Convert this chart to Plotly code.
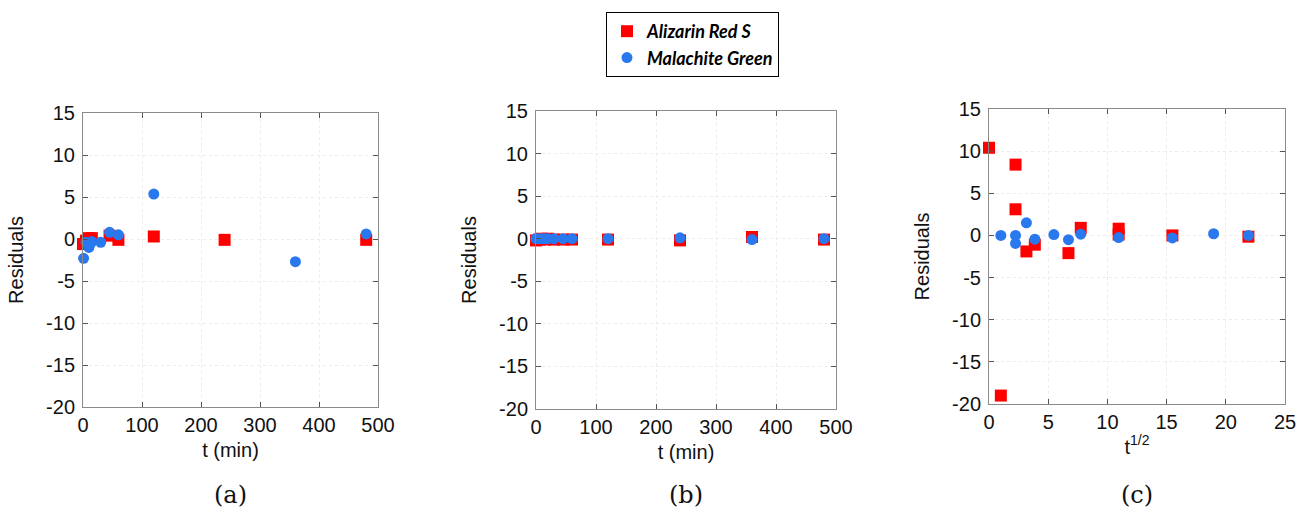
import plotly.graph_objects as go

# Panel (a): residuals vs t (min)
a_red_t = [0, 5, 10, 15, 45, 60, 120, 240, 480]
a_red_r = [-0.6, -0.2, 0.1, 0.1, 0.4, -0.1, 0.3, -0.1, -0.1]
a_blue_t = [1, 5, 10, 12, 15, 30, 45, 60, 120, 360, 480]
a_blue_r = [-2.3, -0.4, -1.0, -0.6, -0.3, -0.4, 0.8, 0.5, 5.35, -2.7, 0.6]

# Panel (b): residuals vs t (min)
b_red_t = [0, 5, 10, 15, 20, 30, 45, 60, 120, 240, 360, 480]
b_red_r = [-0.2, -0.1, 0.0, -0.1, 0.0, -0.1, -0.1, -0.1, -0.1, -0.2, 0.2, -0.1]
b_blue_t = [0, 5, 10, 15, 20, 30, 45, 60, 120, 240, 360, 480]
b_blue_r = [0.0, 0.0, 0.0, 0.0, 0.0, 0.0, 0.0, 0.0, 0.0, 0.1, -0.1, 0.0]

# Panel (c): residuals vs t^1/2
c_red_x = [0, 1.0, 2.24, 2.24, 3.16, 3.87, 6.71, 7.75, 10.95, 10.95, 15.49, 21.91]
c_red_r = [10.4, -19.0, 8.4, 3.1, -1.9, -1.1, -2.1, 0.9, 0.8, 0.1, 0.0, -0.15]
c_blue_x = [1.0, 2.24, 2.24, 3.16, 3.87, 5.48, 6.71, 7.75, 10.95, 15.49, 18.97, 21.91]
c_blue_r = [0.0, 0.0, -0.95, 1.5, -0.45, 0.1, -0.5, 0.15, -0.25, -0.3, 0.2, 0.0]

series_names = ["Alizarin Red S", "Malachite Green"]
panel_labels = ["(a)", "(b)", "(c)"]
x_titles = ["t (min)", "t (min)", "t<sup>1/2</sup>"]
y_tick_vals = [-20, -15, -10, -5, 0, 5, 10, 15]
y_tick_text = ["-20", "-15", "-10", "-5", "0", "5", "10", "15"]
t_tick_vals = [0, 100, 200, 300, 400, 500]
t_tick_text = ["0", "100", "200", "300", "400", "500"]
s_tick_vals = [0, 5, 10, 15, 20, 25]
s_tick_text = ["0", "5", "10", "15", "20", "25"]

RED = "#ff0000"
BLUE = "#2a78ee"
W, H = 1309, 518

fig = go.Figure()
panels = [
    (a_red_t, a_red_r, a_blue_t, a_blue_r),
    (b_red_t, b_red_r, b_blue_t, b_blue_r),
    (c_red_x, c_red_r, c_blue_x, c_blue_r),
]
for i, (rx, ry, bx, by) in enumerate(panels):
    xa = "x" if i == 0 else f"x{i+1}"
    ya = "y" if i == 0 else f"y{i+1}"
    fig.add_trace(go.Scatter(x=rx, y=ry, mode="markers", name=series_names[0],
                             marker=dict(symbol="square", size=12, color=RED),
                             cliponaxis=False,
                             showlegend=(i == 0), xaxis=xa, yaxis=ya, legendrank=1))
    fig.add_trace(go.Scatter(x=bx, y=by, mode="markers", name=series_names[1],
                             marker=dict(symbol="circle", size=11, color=BLUE),
                             cliponaxis=False,
                             showlegend=(i == 0), xaxis=xa, yaxis=ya, legendrank=2))

xdoms = [[83 / W, 378 / W], [536 / W, 836 / W], [989 / W, 1285 / W]]
ydoms = [[1 - 407 / H, 1 - 113 / H], [1 - 409 / H, 1 - 111 / H], [1 - 404 / H, 1 - 109 / H]]
xranges = [[0, 500], [0, 500], [0, 25]]
xticks = [(t_tick_vals, t_tick_text), (t_tick_vals, t_tick_text), (s_tick_vals, s_tick_text)]

tickfont = dict(family="Liberation Sans", size=20, color="#111")
titlefont = dict(family="Liberation Sans", size=20, color="#111")
axis_common = dict(
    showline=True, linecolor="#8a8a8a", linewidth=1, mirror="ticks",
    ticks="inside", ticklen=5, tickcolor="#555", tickwidth=1,
    showgrid=True, gridcolor="#ececec", griddash="dot", gridwidth=1,
    zeroline=False, tickfont=tickfont, automargin=False,
)

layout = {}
for i in range(3):
    xk = "xaxis" if i == 0 else f"xaxis{i+1}"
    yk = "yaxis" if i == 0 else f"yaxis{i+1}"
    ya = "y" if i == 0 else f"y{i+1}"
    xa = "x" if i == 0 else f"x{i+1}"
    layout[xk] = dict(axis_common, domain=xdoms[i], range=xranges[i],
                      tickmode="array", tickvals=xticks[i][0], ticktext=xticks[i][1],
                      anchor=ya,
                      title=dict(text=x_titles[i], font=titlefont, standoff=7))
    layout[yk] = dict(axis_common, domain=ydoms[i], range=[-20, 15],
                      tickmode="array", tickvals=y_tick_vals, ticktext=y_tick_text,
                      anchor=xa, ticklabelstandoff=3,
                      title=dict(text="Residuals", font=titlefont, standoff=17))

fig.update_layout(**layout)

annotations = []
centers = [(d[0] + d[1]) / 2 for d in xdoms]
for i, lab in enumerate(panel_labels):
    annotations.append(dict(text=lab, x=centers[i], y=1 - 495 / H, xref="paper", yref="paper",
                            showarrow=False, xanchor="center", yanchor="middle",
                            font=dict(family="DejaVu Serif", size=24, color="#111")))

fig.update_layout(
    width=W, height=H,
    margin=dict(l=0, r=0, t=0, b=0),
    paper_bgcolor="white", plot_bgcolor="white",
    annotations=annotations,
    legend=dict(x=606 / W, y=1 - 12 / H, xanchor="left", yanchor="top",
                bordercolor="#000", borderwidth=1, bgcolor="white",
                font=dict(family="Lato", size=18, color="#000",
                          style="italic", weight="bold"),
                itemwidth=30, tracegroupgap=0,
                entrywidth=150, entrywidthmode="pixels"),
)

fig.write_html("out.html", config={"displayModeBar": False},
               post_script="document.body.style.margin='0';document.body.style.padding='0';")
